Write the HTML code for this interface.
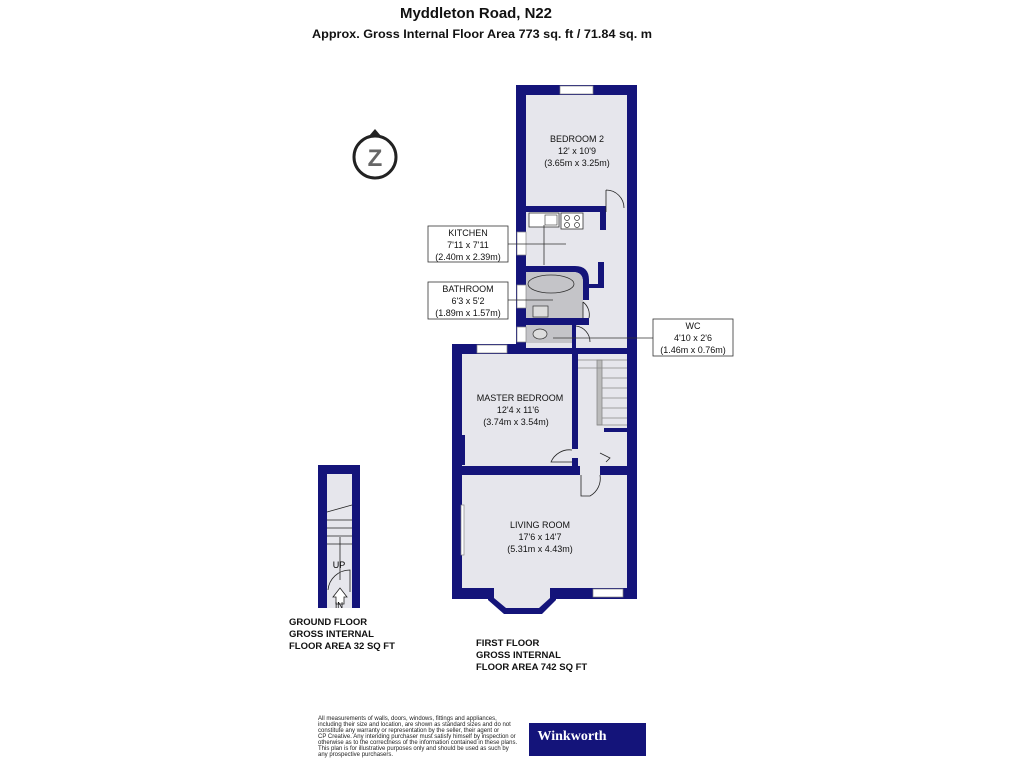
<!DOCTYPE html>
<html><head><meta charset="utf-8"><style>
body{margin:0;background:#fff;width:1024px;height:768px;overflow:hidden;font-family:"Liberation Sans",sans-serif}
svg{position:absolute;left:0;top:0}
</style></head><body>
<svg width="1024" height="768" viewBox="0 0 1024 768" font-family="Liberation Sans, sans-serif">
<text x="476" y="18" font-size="15" font-weight="bold" text-anchor="middle" fill="#111" textLength="152" lengthAdjust="spacingAndGlyphs">Myddleton Road, N22</text>
<text x="482" y="38" font-size="12" font-weight="bold" text-anchor="middle" fill="#111" textLength="340" lengthAdjust="spacingAndGlyphs">Approx. Gross Internal Floor Area 773 sq. ft / 71.84 sq. m</text>
<!-- compass -->
<circle cx="375" cy="157" r="21" fill="none" stroke="#222" stroke-width="3"/>
<polygon points="369,136 375,129 381,136" fill="#222"/>
<text x="375" y="166" font-size="24" font-weight="bold" text-anchor="middle" fill="#666">Z</text>

<g fill="#14147a">
<rect x="516" y="85" width="121" height="270"/>
<rect x="452" y="344" width="185" height="255"/>
<polygon points="488,588 556,588 556,600 542,614 504,614 488,600"/>
</g>
<g fill="#e6e6ec">
<rect x="526" y="95" width="101" height="253"/>
<rect x="462" y="354" width="165" height="234"/>
<polygon points="494,588 550,588 550,598 539,608 506,608 494,598"/>
</g>
<g fill="#14147a">
<rect x="526" y="206" width="80" height="6"/>
<rect x="600" y="206" width="6" height="24"/>
<path d="M517,266 H575 Q589,266 589,280 V300 H583 V282 Q583,272 573,272 H517Z"/>
<rect x="598" y="262" width="6" height="26"/>
<rect x="589" y="284" width="15" height="4"/>
<rect x="517" y="318" width="72" height="7"/>
<rect x="572" y="325" width="4" height="25"/>
<rect x="462" y="466" width="118" height="9"/>
<rect x="600" y="466" width="30" height="9"/>
<rect x="572" y="354" width="6" height="95"/>
<rect x="572" y="458" width="6" height="10"/>
<rect x="462" y="435" width="3" height="30"/>
</g>
<g fill="#c4c4c8">
<path d="M526,272 H573 Q583,272 583,282 V318 H526Z"/>
<rect x="526" y="325" width="46" height="18"/>
</g>
<g fill="#fff" stroke="#888" stroke-width="0.7">
<rect x="560" y="86" width="33" height="8"/>
<rect x="517" y="232" width="9" height="23"/>
<rect x="517" y="285" width="9" height="23"/>
<rect x="517" y="327" width="9" height="15"/>
<rect x="477" y="345" width="30" height="8"/>
<rect x="593" y="589" width="30" height="8"/>
<rect x="461" y="505" width="3" height="50"/>
</g>
<rect x="529" y="213" width="30" height="14" fill="#fff" stroke="#333" stroke-width="0.8"/>
<rect x="545" y="215" width="12" height="10" fill="none" stroke="#333" stroke-width="0.6"/>
<rect x="561" y="213" width="22" height="16" fill="#fff" stroke="#333" stroke-width="0.8"/>
<g fill="none" stroke="#333" stroke-width="0.7"><circle cx="567" cy="218" r="2.5"/><circle cx="577" cy="218" r="2.5"/><circle cx="567" cy="225" r="2.5"/><circle cx="577" cy="225" r="2.5"/></g>
<ellipse cx="551" cy="284" rx="23" ry="9" fill="#c4c4c8" stroke="#333" stroke-width="0.8"/>
<rect x="533" y="306" width="15" height="11" fill="#ddd" stroke="#333" stroke-width="0.7"/>
<ellipse cx="540" cy="334" rx="7" ry="5" fill="#ddd" stroke="#333" stroke-width="0.7"/>
<g fill="none" stroke="#222" stroke-width="0.8">
<path d="M606,190 V212 M606,190 A18,18 0 0 1 624,208"/>
<path d="M583,302 V318 M583,302 A16,16 0 0 1 589,318"/>
<path d="M576,326 A16,16 0 0 1 590,342"/>
<path d="M572,450 A20,20 0 0 0 551,462 H572"/>
<path d="M581,475 V496 H590 A20,20 0 0 0 600,475"/>
<path d="M600,453 L610,458 L606,462"/>
</g>
<g stroke="#888" stroke-width="0.8" fill="none">
<rect x="597" y="360" width="5" height="65" fill="#bbb"/>
<line x1="578" y1="360" x2="627" y2="360"/><line x1="578" y1="368" x2="627" y2="368"/>
<line x1="602" y1="378" x2="627" y2="378"/><line x1="602" y1="388" x2="627" y2="388"/>
<line x1="602" y1="398" x2="627" y2="398"/><line x1="602" y1="408" x2="627" y2="408"/>
<line x1="602" y1="418" x2="627" y2="418"/><line x1="597" y1="425" x2="627" y2="425"/>
</g>
<rect x="604" y="428" width="23" height="4" fill="#14147a"/>
<g font-size="9" text-anchor="middle" fill="#111">
<text x="577" y="142">BEDROOM 2</text><text x="577" y="154">12' x 10'9</text><text x="577" y="166">(3.65m x 3.25m)</text>
<text x="520" y="401">MASTER BEDROOM</text><text x="518" y="413">12'4 x 11'6</text><text x="516" y="425">(3.74m x 3.54m)</text>
<text x="540" y="528">LIVING ROOM</text><text x="540" y="540">17'6 x 14'7</text><text x="540" y="552">(5.31m x 4.43m)</text>
</g>
<g stroke="#333" stroke-width="0.8" fill="#fff">
<rect x="428" y="226" width="80" height="36"/>
<rect x="428" y="282" width="80" height="37"/>
<rect x="653" y="319" width="80" height="37"/>
<line x1="508" y1="244" x2="566" y2="244"/>
<line x1="508" y1="300" x2="553" y2="300"/>
<line x1="553" y1="338" x2="653" y2="338"/>
<line x1="544" y1="225" x2="544" y2="265"/>
</g>
<g font-size="9" text-anchor="middle" fill="#111">
<text x="468" y="236">KITCHEN</text><text x="468" y="248">7'11 x 7'11</text><text x="468" y="260">(2.40m x 2.39m)</text>
<text x="468" y="292">BATHROOM</text><text x="468" y="304">6'3 x 5'2</text><text x="468" y="316">(1.89m x 1.57m)</text>
<text x="693" y="329">WC</text><text x="693" y="341">4'10 x 2'6</text><text x="693" y="353">(1.46m x 0.76m)</text>
</g>
<rect x="318" y="465" width="42" height="143" fill="#14147a"/>
<rect x="327" y="474" width="25" height="134" fill="#e6e6ec"/>
<g stroke="#222" stroke-width="0.8" fill="none">
<line x1="327" y1="520" x2="352" y2="520"/><line x1="327" y1="528" x2="352" y2="528"/>
<line x1="327" y1="536" x2="352" y2="536"/><line x1="327" y1="544" x2="352" y2="544"/>
<line x1="327" y1="512" x2="352" y2="505"/><line x1="340" y1="580" x2="340" y2="537"/>
<path d="M328,590 A22,22 0 0 1 350,570 V592"/>
<path d="M333,597 L340,588 L347,597 H344 V604 H336 V597Z" fill="#fff"/>
</g>
<text x="339" y="568" font-size="9" text-anchor="middle">UP</text>
<text x="339" y="608" font-size="8" text-anchor="middle">IN</text>
<g font-size="9.5" font-weight="bold" fill="#111">
<text x="289" y="625">GROUND FLOOR</text><text x="289" y="637">GROSS INTERNAL</text><text x="289" y="649">FLOOR AREA 32 SQ FT</text>
<text x="476" y="646">FIRST FLOOR</text><text x="476" y="658">GROSS INTERNAL</text><text x="476" y="670">FLOOR AREA 742 SQ FT</text>
</g>
<g font-size="6" fill="#222">
<text x="318" y="720">All measurements of walls, doors, windows, fittings and appliances,</text>
<text x="318" y="726">including their size and location, are shown as standard sizes and do not</text>
<text x="318" y="732">constitute any warranty or representation by the seller, their agent or</text>
<text x="318" y="738">CP Creative. Any intending purchaser must satisfy himself by inspection or</text>
<text x="318" y="744">otherwise as to the correctness of the information contained in these plans.</text>
<text x="318" y="750">This plan is for illustrative purposes only and should be used as such by</text>
<text x="318" y="756">any prospective purchasers.</text>
</g>
<rect x="529" y="723" width="117" height="33" fill="#14147a"/>
<text x="572" y="740" font-size="14" font-weight="bold" font-family="Liberation Serif, serif" fill="#fff" text-anchor="middle">Winkworth</text>
</svg>
</body></html>
